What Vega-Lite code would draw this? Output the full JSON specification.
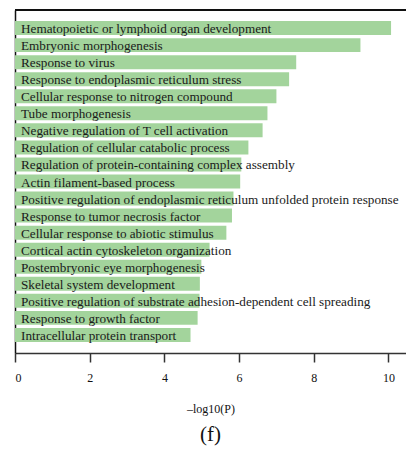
{
  "$schema": "https://vega.github.io/schema/vega-lite/v6.json",
  "autosize": "none",
  "width": 391,
  "height": 343,
  "padding": {"left": 15, "top": 10, "right": 0, "bottom": 96},
  "background": "white",
  "config": {"view": {"stroke": null}, "font": "Liberation Serif"},
  "title": {"text": "(f)", "orient": "bottom", "fontSize": 21, "font": "Liberation Serif", "fontWeight": "normal", "color": "#111", "offset": 10, "anchor": "middle"},
  "data": {"values": [
    {"term": "Hematopoietic or lymphoid organ development", "p": 10.07},
    {"term": "Embryonic morphogenesis", "p": 9.25},
    {"term": "Response to virus", "p": 7.53},
    {"term": "Response to endoplasmic reticulum stress", "p": 7.34},
    {"term": "Cellular response to nitrogen compound", "p": 7.0},
    {"term": "Tube morphogenesis", "p": 6.76},
    {"term": "Negative regulation of T cell activation", "p": 6.63},
    {"term": "Regulation of cellular catabolic process", "p": 6.25},
    {"term": "Regulation of protein-containing complex assembly", "p": 6.06},
    {"term": "Actin filament-based process", "p": 6.03},
    {"term": "Positive regulation of endoplasmic reticulum unfolded protein response", "p": 5.85},
    {"term": "Response to tumor necrosis factor", "p": 5.81},
    {"term": "Cellular response to abiotic stimulus", "p": 5.66},
    {"term": "Cortical actin cytoskeleton organization", "p": 5.21},
    {"term": "Postembryonic eye morphogenesis", "p": 4.99},
    {"term": "Skeletal system development", "p": 4.95},
    {"term": "Positive regulation of substrate adhesion-dependent cell spreading", "p": 4.94},
    {"term": "Response to growth factor", "p": 4.89},
    {"term": "Intracellular protein transport", "p": 4.7}
  ]},
  "encoding": {
    "y": {"field": "term", "type": "nominal", "sort": null,
      "scale": {"paddingInner": 0.18, "paddingOuter": 0.65},
      "axis": {"title": null, "labels": false, "ticks": false, "domainColor": "#111", "domainWidth": 1.5}}
  },
  "layer": [
    {
      "mark": {"type": "bar", "color": "#a3d49c"},
      "encoding": {
        "x": {"field": "p", "type": "quantitative",
          "scale": {"domain": [0, 10.47], "nice": false, "zero": true},
          "axis": {"title": "–log10(P)", "values": [0, 2, 4, 6, 8, 10], "grid": false,
            "domainColor": "#333", "domainWidth": 1.5, "tickColor": "#333", "tickWidth": 1.5, "tickSize": 9,
            "labelFont": "Liberation Serif", "labelFontSize": 12, "labelColor": "#111", "labelPadding": 10,
            "titleFont": "Liberation Serif", "titleFontSize": 12, "titleFontWeight": "normal", "titleColor": "#111", "titlePadding": 20}}
      }
    },
    {
      "mark": {"type": "text", "align": "left", "baseline": "middle", "dx": 6, "dy": 1, "fontSize": 13.2, "font": "Liberation Serif", "color": "#1a1a1a"},
      "encoding": {
        "x": {"datum": 0, "type": "quantitative"},
        "text": {"field": "term"}
      }
    },
    {
      "mark": {"type": "rule", "color": "#111", "strokeWidth": 1.5},
      "encoding": {
        "y": {"value": 0},
        "x": {"value": 0},
        "x2": {"value": 391}
      }
    }
  ]
}
